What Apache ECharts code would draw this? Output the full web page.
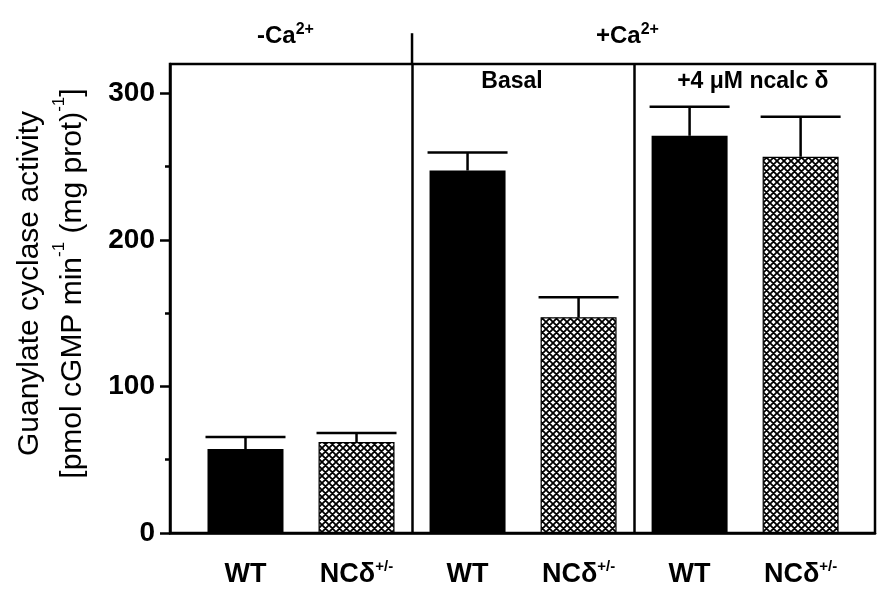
<!DOCTYPE html>
<html>
<head>
<meta charset="utf-8">
<script src="https://cdn.jsdelivr.net/npm/echarts@6/dist/echarts.min.js"></script>
<style>
  html, body { margin: 0; padding: 0; background: #fff; }
  #main { width: 892px; height: 601px; }
</style>
</head>
<body>
<div id="main"></div>
<script>
// values
var groups = ['WT', 'NCδ+/-', 'WT', 'NCδ+/-', 'WT', 'NCδ+/-'];
var activity = [57.3, 62.1, 247.3, 147.2, 271.0, 256.7];
var sem = [8.2, 6.2, 12.3, 13.7, 19.8, 27.3];
var yTicks = [0, 100, 200, 300];
var yMinorTicks = [50, 150, 250];
var dividers = [1.5, 3.5];

var FONT = 'Liberation Sans';
var LW = 2.5;

// cross hatch for the NCδ bars
var tile = document.createElement('canvas');
tile.width = 7;
tile.height = 7;
var g = tile.getContext('2d');
g.fillStyle = '#fff';
g.fillRect(0, 0, 7, 7);
g.strokeStyle = '#000';
g.lineWidth = 1.8;
g.beginPath();
for (var k = -7; k <= 7; k += 7) {
    g.moveTo(k - 2, -2); g.lineTo(k + 9, 9);
    g.moveTo(k + 9, -2); g.lineTo(k - 2, 9);
}
g.stroke();

var barData = [];
var errData = [];
for (var i = 0; i < activity.length; i++) {
    var wt = groups[i] === 'WT';
    barData.push({
        value: [i, activity[i]],
        itemStyle: wt ? {color: '#000'} : {color: {image: tile, repeat: 'repeat'}, borderColor: '#000', borderWidth: 1.2}
    });
    errData.push([i, activity[i], sem[i]]);
}

var chart = echarts.init(document.getElementById('main'));

var option = {
    backgroundColor: '#fff',
    animation: false,
    grid: {
        left: 170, right: 17, top: 64, bottom: 68,
        show: true, borderColor: '#000', borderWidth: LW,
        containLabel: false, outerBoundsMode: 'none'
    },
    xAxis: {
        type: 'value',
        min: -0.68,
        max: 5.67,
        splitLine: {show: false},
        axisLine: {onZero: false, lineStyle: {color: '#000', width: LW}},
        axisTick: {show: false},
        axisLabel: {
            customValues: [0, 1, 2, 3, 4, 5],
            margin: 26,
            formatter: function (v) {
                var s = groups[Math.round(v)];
                return s === 'WT' ? '{n|WT}' : '{n|NCδ}{s|+/-}';
            },
            rich: {
                n: {fontFamily: FONT, fontWeight: 'bold', fontSize: 27, color: '#000', lineHeight: 32},
                s: {fontFamily: FONT, fontWeight: 'bold', fontSize: 15, color: '#000', verticalAlign: 'top', lineHeight: 20}
            }
        }
    },
    yAxis: [
        {
            type: 'value',
            min: 0,
            max: 320,
            interval: 100,
            splitLine: {show: false},
            axisLine: {show: true, onZero: false, lineStyle: {color: '#000', width: LW}},
            axisTick: {show: true, customValues: yTicks, length: 10, lineStyle: {color: '#000', width: LW}},
            axisLabel: {
                customValues: yTicks,
                margin: 15,
                color: '#000',
                fontFamily: FONT,
                fontWeight: 'bold',
                fontSize: 28
            },
            name: '{t|Guanylate cyclase activity}\n{t|[pmol cGMP min}{s|-1}{t| (mg prot)}{s|-1}{t|]}',
            nameLocation: 'middle',
            nameGap: 76,
            nameTextStyle: {
                padding: [0, 0, 0, 30],
                rich: {
                    t: {fontFamily: FONT, fontSize: 30, color: '#000', lineHeight: 43},
                    s: {fontFamily: FONT, fontSize: 17, color: '#000', verticalAlign: 'top', lineHeight: 28}
                }
            }
        },
        {
            // minor ticks only
            type: 'value',
            min: 0,
            max: 320,
            interval: 50,
            position: 'left',
            splitLine: {show: false},
            axisLine: {show: false, onZero: false},
            axisLabel: {show: false},
            axisTick: {show: true, customValues: yMinorTicks, length: 5, lineStyle: {color: '#000', width: LW}}
        }
    ],
    series: [
        {
            type: 'bar',
            barWidth: 76,
            data: barData,
            markLine: {
                silent: true,
                symbol: 'none',
                label: {show: false},
                lineStyle: {color: '#000', width: LW, type: 'solid'},
                data: dividers.map(function (d) { return {xAxis: d}; })
            }
        },
        {
            type: 'custom',
            z: 3,
            data: errData,
            renderItem: function (params, api) {
                var p1 = api.coord([api.value(0), api.value(1)]);
                var p2 = api.coord([api.value(0), api.value(1) + api.value(2)]);
                var st = {stroke: '#000', lineWidth: LW};
                return {
                    type: 'group',
                    children: [
                        {type: 'line', shape: {x1: p1[0], y1: p1[1], x2: p2[0], y2: p2[1]}, style: st},
                        {type: 'line', shape: {x1: p2[0] - 40, y1: p2[1], x2: p2[0] + 40, y2: p2[1]}, style: st}
                    ]
                };
            }
        }
    ]
};

chart.setOption(option);

// panel labels and the divider above the frame, placed through the axes
function px(x, y) {
    return chart.convertToPixel({xAxisIndex: 0, yAxisIndex: 0}, [x, y]);
}
var caRich = {
    b: {fontFamily: FONT, fontWeight: 'bold', fontSize: 24, fill: '#000', lineHeight: 30},
    s: {fontFamily: FONT, fontWeight: 'bold', fontSize: 16, fill: '#000', verticalAlign: 'top', lineHeight: 18}
};
var pMinus = px(0.36, 339);
var pPlus = px(3.44, 339);
var pBasal = px(2.4, 308);
var pNcalc = px(4.57, 308);
var dTop = px(dividers[0], 341);
var dBot = px(dividers[0], 320);

chart.setOption({
    graphic: [
        {type: 'line', shape: {x1: dTop[0], y1: dTop[1], x2: dBot[0], y2: dBot[1]}, style: {stroke: '#000', lineWidth: LW}},
        {type: 'text', x: pMinus[0], y: pMinus[1], style: {text: '{b|-Ca}{s|2+}', rich: caRich, align: 'center', verticalAlign: 'middle'}},
        {type: 'text', x: pPlus[0], y: pPlus[1], style: {text: '{b|+Ca}{s|2+}', rich: caRich, align: 'center', verticalAlign: 'middle'}},
        {type: 'text', x: pBasal[0], y: pBasal[1], style: {text: 'Basal', fontFamily: FONT, fontWeight: 'bold', fontSize: 23, fill: '#000', align: 'center', verticalAlign: 'middle'}},
        {type: 'text', x: pNcalc[0], y: pNcalc[1], style: {text: '+4 μM ncalc δ', fontFamily: FONT, fontWeight: 'bold', fontSize: 23, fill: '#000', align: 'center', verticalAlign: 'middle'}}
    ]
});
</script>
</body>
</html>
